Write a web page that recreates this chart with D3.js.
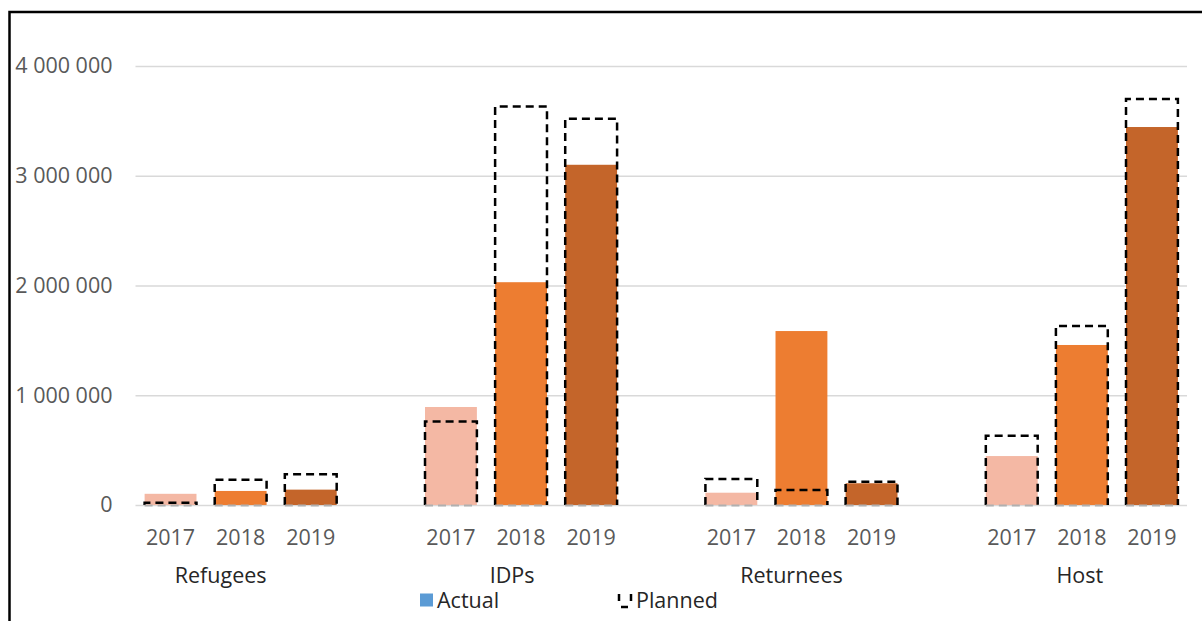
<!DOCTYPE html>
<html>
<head>
<meta charset="utf-8">
<script src="https://cdn.jsdelivr.net/npm/d3@7"></script>
<style>
  html, body { margin: 0; padding: 0; background: #fff; }
  svg text { font-family: "Open Sans", sans-serif; }
</style>
</head>
<body>
<div id="chart"></div>
<script>
/* Data */
const GROUPS = ["Refugees", "IDPs", "Returnees", "Host"]
const YEARS = ["2017", "2018", "2019"]
const ACTUAL_2017 = [102000, 893000, 112000, 446000]
const ACTUAL_2018 = [128000, 2030000, 1585000, 1458000]
const ACTUAL_2019 = [140000, 3100000, 198000, 3444000]
const PLANNED_2017 = [20000, 760000, 237000, 630000]
const PLANNED_2018 = [230000, 3630000, 137000, 1630000]
const PLANNED_2019 = [280000, 3520000, 212000, 3700000]
const Y_TICKS = [0, 1000000, 2000000, 3000000, 4000000]
const LEGEND_LABELS = ["Actual", "Planned"]

/* Layout constants */
const WIDTH = 1202
const HEIGHT = 621
const PLOT = {"left": 135.5, "right": 1187, "top": 66, "bottom": 505}
const YEAR_COLORS = {"2017": "#F4B8A4", "2018": "#ED7D31", "2019": "#C4652A"}
const LABEL_NUDGE = [-20, -9, -10, -2]
const FONT_SIZE = "21.5px"

const actual = {"2017": ACTUAL_2017, "2018": ACTUAL_2018, "2019": ACTUAL_2019}
const planned = {"2017": PLANNED_2017, "2018": PLANNED_2018, "2019": PLANNED_2019}

/* Build slots: three years per group, with an empty slot in between groups */
let slots = []
let rows = []
GROUPS.forEach((g, gi) => {
  YEARS.forEach((y) => {
    slots.push(g + "|" + y)
    rows.push({"group": g, "gi": gi, "year": y, "actual": actual[y][gi], "planned": planned[y][gi]})
  })
  if (gi < GROUPS.length - 1) slots.push("gap" + gi)
})

const svg = d3.select("#chart")
              .append("svg")
              .attr("width", WIDTH)
              .attr("height", HEIGHT)

const xScale = d3.scaleBand()
                 .domain(slots)
                 .range([PLOT.left, PLOT.right])
                 .paddingInner(0.26)
                 .paddingOuter(0.13)
const yScale = d3.scaleLinear()
                 .domain([0, 4000000])
                 .range([PLOT.bottom, PLOT.top])

const fmt = (v) => d3.format(",")(v).replace(/,/g, " ")

/* outer frame */
svg.append("rect")
   .attr("x", 9.5)
   .attr("y", 12)
   .attr("width", WIDTH + 20)
   .attr("height", HEIGHT + 20)
   .attr("fill", "none")
   .attr("stroke", "#000")
   .attr("stroke-width", 2.5)

/* gridlines + y labels */
const yAxis = d3.axisLeft(yScale)
                .tickValues(Y_TICKS)
                .tickSize(-(PLOT.right - PLOT.left))
                .tickPadding(23)
                .tickFormat(fmt)
svg.append("g")
   .attr("transform", "translate(" + PLOT.left + ",0)")
   .call(yAxis)
   .call((g) => g.select(".domain").remove())
   .call((g) => g.selectAll(".tick line").attr("stroke", "#d9d9d9").attr("stroke-width", 1.5))
   .call((g) => g.selectAll(".tick text")
                 .attr("fill", "#595959")
                 .style("font-size", FONT_SIZE)
                 .style("font-family", "'Open Sans', sans-serif"))

/* actual bars */
svg.selectAll("rect.bar")
   .data(rows)
   .enter()
   .append("rect")
   .attr("class", "bar")
   .attr("x", (d) => xScale(d.group + "|" + d.year))
   .attr("y", (d) => yScale(d.actual))
   .attr("width", xScale.bandwidth())
   .attr("height", (d) => yScale(0) - yScale(d.actual))
   .attr("fill", (d) => YEAR_COLORS[d.year])

/* planned outlines: three black dashed sides, grey bottom on the axis */
svg.selectAll("path.planned")
   .data(rows)
   .enter()
   .append("path")
   .attr("class", "planned")
   .attr("d", (d) => {
     const x0 = xScale(d.group + "|" + d.year)
     const x1 = x0 + xScale.bandwidth()
     return "M" + x0 + "," + yScale(0) + "V" + yScale(d.planned) + "H" + x1 + "V" + yScale(0)
   })
   .attr("fill", "none")
   .attr("stroke", "#000")
   .attr("stroke-width", 2.5)
   .attr("stroke-dasharray", "8,5")
svg.selectAll("line.planned-base")
   .data(rows)
   .enter()
   .append("line")
   .attr("class", "planned-base")
   .attr("x1", (d) => xScale(d.group + "|" + d.year))
   .attr("x2", (d) => xScale(d.group + "|" + d.year) + xScale.bandwidth())
   .attr("y1", yScale(0) + 0.5)
   .attr("y2", yScale(0) + 0.5)
   .attr("stroke", "#b0b0b0")
   .attr("stroke-width", 2)
   .attr("stroke-dasharray", "8,5")

/* year labels */
svg.selectAll("text.year")
   .data(rows)
   .enter()
   .append("text")
   .attr("class", "year")
   .attr("x", (d) => xScale(d.group + "|" + d.year) + xScale.bandwidth() / 2)
   .attr("y", 545)
   .attr("text-anchor", "middle")
   .attr("fill", "#595959")
   .style("font-size", FONT_SIZE)
   .text((d) => d.year)

/* group labels */
svg.selectAll("text.group")
   .data(GROUPS)
   .enter()
   .append("text")
   .attr("class", "group")
   .attr("x", (d, i) => xScale(d + "|" + YEARS[1]) + xScale.bandwidth() / 2 + LABEL_NUDGE[i])
   .attr("y", 583)
   .attr("text-anchor", "middle")
   .attr("fill", "#262626")
   .style("font-size", FONT_SIZE)
   .text((d) => d)

/* legend */
const legend = svg.append("g")
legend.append("rect")
      .attr("x", 420)
      .attr("y", 593.5)
      .attr("width", 13)
      .attr("height", 13)
      .attr("fill", "#5B9BD5")
legend.append("text")
      .attr("x", 437)
      .attr("y", 608)
      .attr("fill", "#262626")
      .style("font-size", FONT_SIZE)
      .text(LEGEND_LABELS[0])
legend.append("path")
      .attr("d", "M619,594V601M621,607H628M631,594V601")
      .attr("fill", "none")
      .attr("stroke", "#000")
      .attr("stroke-width", 2.5)
legend.append("text")
      .attr("x", 636)
      .attr("y", 608)
      .attr("fill", "#262626")
      .style("font-size", FONT_SIZE)
      .text(LEGEND_LABELS[1])
</script>
</body>
</html>
